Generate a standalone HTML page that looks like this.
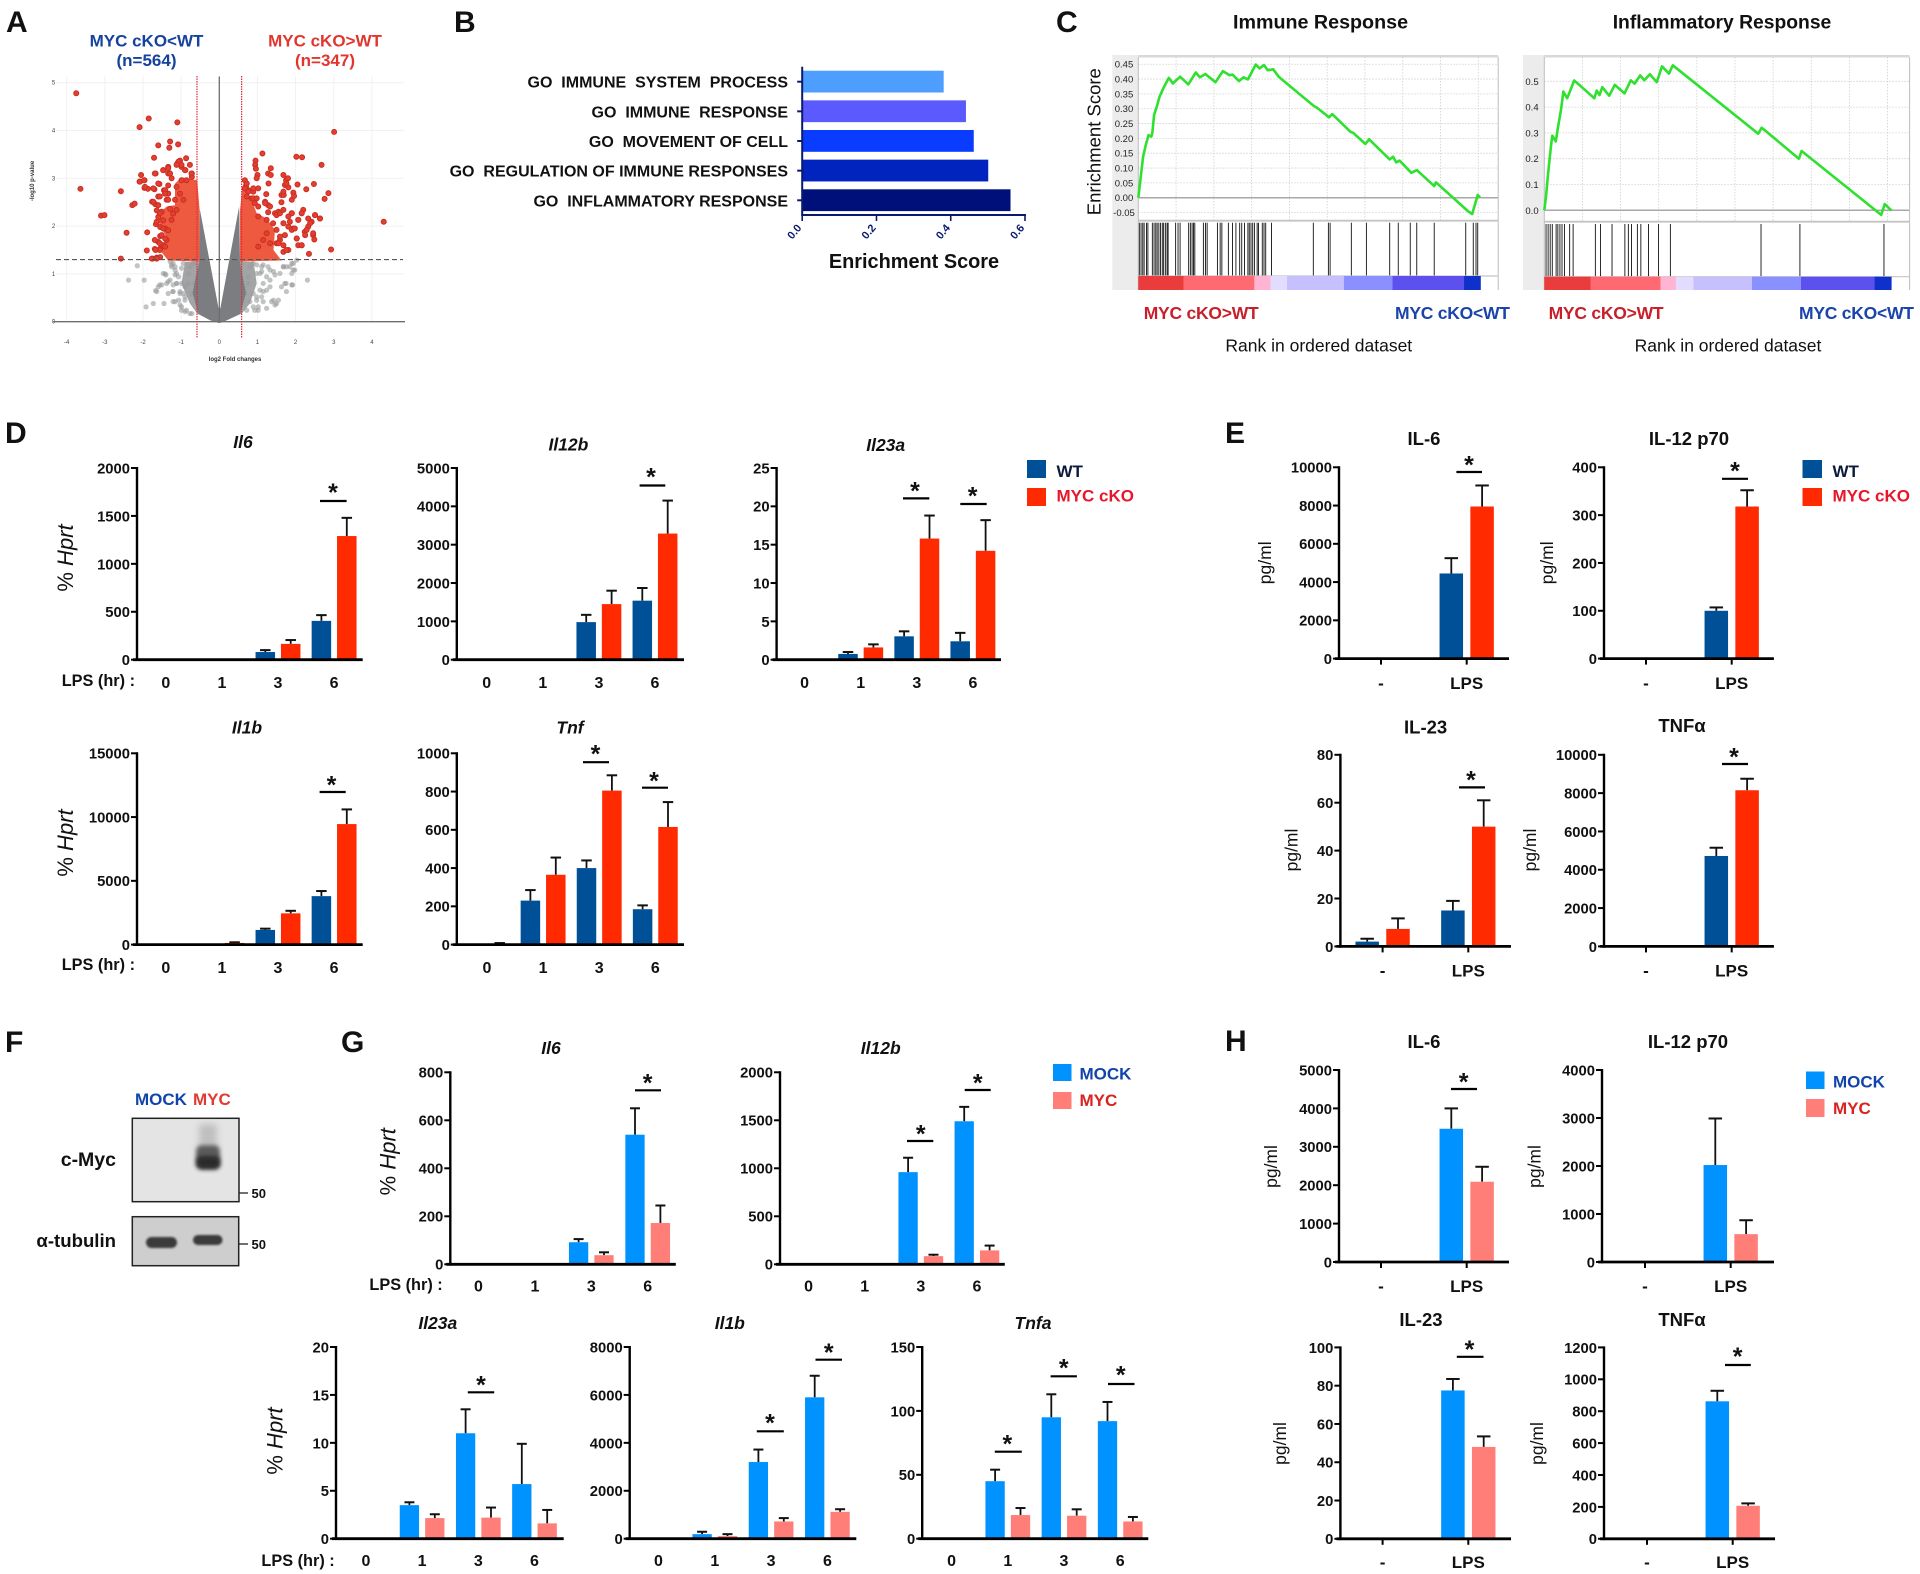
<!DOCTYPE html>
<html lang="en">
<head>
<meta charset="utf-8">
<title>MYC cKO figure panels</title>
<style>
html,body{margin:0;padding:0;background:#fff;}
#figure{display:block;width:1920px;height:1574px;background:#fff;}
#figure text{font-family:"Liberation Sans","DejaVu Sans",sans-serif;fill:#111;white-space:pre;}
.letter{font-size:30px;font-weight:700;fill:#000;}
.lg{font-size:17px;font-weight:700;}
</style>
</head>
<body>
<svg id="figure" xmlns="http://www.w3.org/2000/svg" width="1920" height="1574" viewBox="0 0 1920 1574">
  <defs>
    <filter id="blur-big" x="-50%" y="-50%" width="200%" height="200%"><feGaussianBlur stdDeviation="2"/></filter>
    <filter id="blur-smear" x="-50%" y="-50%" width="200%" height="200%"><feGaussianBlur stdDeviation="3.5"/></filter>
    <filter id="blur-small" x="-20%" y="-50%" width="140%" height="200%"><feGaussianBlur stdDeviation="1.1"/></filter>
  </defs>
  <text class="letter" x="6" y="32">A</text>
  <text class="letter" x="454" y="32">B</text>
  <text class="letter" x="1056" y="32">C</text>
  <text class="letter" x="5" y="443">D</text>
  <text class="letter" x="1225" y="443">E</text>
  <text class="letter" x="5" y="1052">F</text>
  <text class="letter" x="341" y="1052">G</text>
  <text class="letter" x="1225" y="1051">H</text>

  <text x="146.5" y="46.5" text-anchor="middle" font-size="17" font-weight="700" style="fill:#14429c">MYC cKO&lt;WT</text>
  <text x="146.5" y="66" text-anchor="middle" font-size="17" font-weight="700" style="fill:#14429c">(n=564)</text>
  <text x="325" y="46.5" text-anchor="middle" font-size="17" font-weight="700" style="fill:#e2352d">MYC cKO&gt;WT</text>
  <text x="325" y="66" text-anchor="middle" font-size="17" font-weight="700" style="fill:#e2352d">(n=347)</text>

  <text x="1320.5" y="28.5" text-anchor="middle" font-size="19.7" font-weight="700">Immune Response</text>
  <text x="1722" y="28.5" text-anchor="middle" font-size="19.3" font-weight="700">Inflammatory Response</text>
  <text transform="translate(1100.5,141.7) rotate(-90)" text-anchor="middle" font-size="18.5">Enrichment Score</text>
  <text x="1143.7" y="319" font-size="17.5" font-weight="700" textLength="115" style="fill:#c8202a">MYC cKO&gt;WT</text>
  <text x="1395" y="319" font-size="17.5" font-weight="700" textLength="115" style="fill:#1a44aa">MYC cKO&lt;WT</text>
  <text x="1548.6" y="319" font-size="17.5" font-weight="700" textLength="115" style="fill:#c8202a">MYC cKO&gt;WT</text>
  <text x="1799" y="319" font-size="17.5" font-weight="700" textLength="115" style="fill:#1a44aa">MYC cKO&lt;WT</text>
  <text x="1318.8" y="351.5" text-anchor="middle" font-size="17.5">Rank in ordered dataset</text>
  <text x="1728" y="351.5" text-anchor="middle" font-size="17.5">Rank in ordered dataset</text>

  <g>
    <rect x="1027" y="460" width="19" height="18" fill="#005098"/>
    <rect x="1027" y="488" width="19" height="18" fill="#ff2a00"/>
    <text class="lg" x="1056.5" y="477" style="fill:#0c1a3c">WT</text>
    <text class="lg" x="1056.5" y="501.5" style="fill:#e8162a">MYC cKO</text>
  </g>
  <g>
    <rect x="1802.5" y="460" width="19.5" height="18" fill="#005098"/>
    <rect x="1802.5" y="488" width="19.5" height="18" fill="#ff2a00"/>
    <text class="lg" x="1832.5" y="477" style="fill:#0c1a3c">WT</text>
    <text class="lg" x="1832.5" y="501.5" style="fill:#e8162a">MYC cKO</text>
  </g>
  <g>
    <rect x="1053" y="1064" width="18.5" height="17" fill="#0092ff"/>
    <rect x="1053" y="1092" width="18.5" height="17" fill="#ff7f78"/>
    <text class="lg" x="1079.5" y="1079.5" style="fill:#1144aa">MOCK</text>
    <text class="lg" x="1079.5" y="1106" style="fill:#d9231f">MYC</text>
  </g>
  <g>
    <rect x="1806" y="1071.5" width="18.5" height="17.5" fill="#0092ff"/>
    <rect x="1806" y="1099" width="18.5" height="18" fill="#ff7f78"/>
    <text class="lg" x="1833" y="1087.5" style="fill:#1144aa">MOCK</text>
    <text class="lg" x="1833" y="1114" style="fill:#d9231f">MYC</text>
  </g>

  <g>
    <text x="135" y="1105" font-size="17" font-weight="700" style="fill:#1144aa">MOCK</text>
    <text x="193" y="1105" font-size="17" font-weight="700" style="fill:#e03a32">MYC</text>
    <text x="116" y="1166" text-anchor="end" font-size="19.5" font-weight="700">c-Myc</text>
    <text x="116" y="1247" text-anchor="end" font-size="18.6" font-weight="700">α-tubulin</text>
    <rect x="132.3" y="1118.3" width="106.7" height="83.4" fill="#e4e4e4" stroke="#222" stroke-width="1.5"/>
    <rect x="199" y="1124" width="18" height="22" fill="#c0c0c0" filter="url(#blur-smear)"/>
    <rect x="196" y="1145" width="24" height="24" rx="6" fill="#5c5c5c" filter="url(#blur-big)"/>
    <rect x="196.5" y="1156" width="23.5" height="13" rx="5" fill="#2c2c2c" filter="url(#blur-big)"/>
    <rect x="132.3" y="1216.7" width="106.4" height="49" fill="#cecece" stroke="#222" stroke-width="1.5"/>
    <rect x="146" y="1237" width="31" height="11" rx="5.5" fill="#3a3a3a" filter="url(#blur-small)"/>
    <rect x="193" y="1235" width="29.5" height="10" rx="5" fill="#3a3a3a" filter="url(#blur-small)"/>
    <line x1="239" x2="248" y1="1193" y2="1193" stroke="#222" stroke-width="1.3"/>
    <line x1="239" x2="248" y1="1244" y2="1244" stroke="#222" stroke-width="1.3"/>
    <text x="251.5" y="1198" font-size="13" font-weight="700">50</text>
    <text x="251.5" y="1249" font-size="13" font-weight="700">50</text>
  </g>
</svg>

<script>
/* ---------- shared categories ---------- */
const lpsHours = ['0','1','3','6'];
const lpsTreatment = ['-','LPS'];

/* ---------- panel A: volcano (log2 fold change, -log10 p) ---------- */
const volcanoXTicks = [-4,-3,-2,-1,0,1,2,3,4];
const volcanoYTicks = [0,1,2,3,4,5];
const volcanoThresholdP = 1.3;
const volcanoThresholdFc = 0.585;
const volcanoGreyHalo = [[-0.51,2.35],[-0.02,0.28],[0.03,0.28],[0.52,2.4],[0.54,1.26],[0.9,1.25],[0.98,0.8],[0.8,0.38],[0.59,0.17],[0.2,0.03],[0,-0.03],[-0.24,0.03],[-0.58,0.17],[-0.77,0.38],[-0.99,0.8],[-0.9,1.25],[-0.52,1.26]];
const volcanoGreyCore = [[-0.51,2.35],[-0.02,0.28],[0.03,0.28],[0.52,2.4],[0.54,1.26],[0.6,1.0],[0.7,0.6],[0.55,0.17],[0.2,0.03],[0,-0.03],[-0.24,0.03],[-0.55,0.17],[-0.7,0.6],[-0.6,1.0],[-0.52,1.26]];
const volcanoRedBodyDown = [[-0.52,1.26],[-1.34,1.28],[-1.57,1.51],[-1.38,1.76],[-1.56,2.02],[-1.63,2.23],[-1.38,2.41],[-1.16,2.44],[-1.16,2.89],[-0.99,3.02],[-0.58,2.96],[-0.52,2.37]];
const volcanoRedBodyUp = [[0.54,1.26],[1.63,1.28],[1.42,1.5],[1.46,1.92],[1.24,2.16],[0.98,2.27],[0.85,2.55],[0.72,2.75],[0.67,3.0],[0.6,2.8],[0.54,2.3]];
const volcanoGreyPoints = [[-2.15,1.17],[-2.38,.87],[-1.97,.87],[-1.92,.31],[-1.73,.38],[-1.45,.38],[-1.67,.65],[-1.51,.77],[-1.6,.73],[-1.47,1.01],[-1.4,.98],[-1.29,1.26],[-1.21,1.22],[-1.25,1.15],[-1.16,1.08],[-1.21,.77],[-1.34,.59],[-1.22,.63],[-1.12,.8],[-1.07,.94],[-.99,1.12],[-.94,1.22],[-1.03,.63],[-.94,.59],[-1.16,.42],[-1.03,.35],[-.99,.24],[-.86,.24],[-.72,.17],[-.9,.73],[-.81,1.01],[-.77,1.15],[-.68,1.22],[-.81,.8],[-.72,.59],[-.99,.8],[-.9,.45],[-.64,.8],[-1.12,1.01],[-1.38,.8],[-1.25,1.19],[-1.16,1.15],[-1.29,.87],[-1.12,.8],[-1.21,.63],[-1.07,.45],[-1.21,.42],[-.99,.31],[-.9,.21],[-.77,.17],[-1.03,.59],[-.9,.52],[-1.16,.98],[-1.56,.77],[-1.64,.63],[-1.42,1.0],[-1.34,.84],[2.03,1.29],[1.94,1.22],[1.85,1.15],[1.98,1.08],[1.9,1.01],[1.76,1.15],[1.68,1.15],[2.31,.87],[1.92,.77],[1.75,.8],[1.63,.73],[1.76,.63],[1.55,.45],[1.46,.35],[1.37,.42],[1.24,.94],[1.33,.87],[1.15,.8],[1.24,.66],[1.07,.66],[.93,.24],[.98,.45],[.89,.59],[.8,.42],[.76,.8],[.98,1.01],[1.11,1.15],[.89,1.22],[.8,1.15],[.76,.94],[1.33,1.08],[1.46,.98],[1.07,1.01],[1.15,.42],[1.24,.28],[1.02,.24],[.72,.24],[.67,.59],[.98,1.19],[1.15,1.19],[1.11,1.05],[1.28,1.15],[1.42,1.05],[1.59,1.01],[1.68,1.15],[1.9,1.22],[1.94,1.08],[1.72,.8],[1.9,.77],[1.33,.73],[1.15,.63],[1.42,.45],[1.5,.38],[1.02,.31],[.89,.31],[.98,.52],[1.11,.52]];
const volcanoRedPoints = [[-3.75,4.78],[-3.64,2.78],[-1.85,4.25],[-2.09,4.07],[-1.1,4.17],[-1.6,3.69],[-1.29,3.77],[-1.31,3.64],[-1.08,3.71],[-1.71,3.43],[-.87,3.42],[-1.03,3.37],[-1.1,3.31],[-.77,3.28],[-.99,3.24],[-1.34,3.24],[-1.47,3.17],[-.89,3.17],[-1.67,3.1],[-2.05,3.07],[-1.34,3.1],[-.72,3.1],[-2.09,2.93],[-1.96,2.96],[-1.57,2.88],[-1.25,3.0],[-2.58,2.73],[-1.96,2.8],[-1.87,2.78],[-1.7,2.77],[-1.45,2.75],[-1.42,2.68],[-1.34,2.68],[-1.6,2.62],[-1.38,2.55],[-1.76,2.51],[-1.68,2.46],[-2.28,2.44],[-2.22,2.47],[-3.1,2.22],[-3.01,2.23],[-2.43,1.86],[-1.89,1.87],[-1.9,1.49],[-1.69,1.52],[-2.58,1.32],[-1.75,1.32],[-1.64,1.34],[-1.55,1.35],[-1.66,2.04],[-1.55,1.79],[-1.64,2.33],[-1.51,2.3],[-1.6,2.19],[-1.47,2.12],[-1.55,1.98],[-1.29,2.36],[-1.21,2.26],[-1.42,1.95],[-1.34,1.91],[-1.47,1.6],[-1.55,1.53],[-1.38,1.71],[-1.6,1.67],[-1.25,2.13],[-1.12,2.34],[-1.16,2.55],[-.99,2.96],[-.86,2.96],[-.72,3.03],[-1.12,2.82],[-1.03,2.68],[-.94,2.55],[-1.34,2.85],[-1.07,3.35],[-.99,3.28],[-1.12,3.28],[-.9,3.17],[-.73,3.1],[-1.73,2.51],[-1.6,2.44],[-1.42,2.75],[-1.34,2.68],[-1.56,2.27],[-1.64,2.09],[-1.47,1.95],[-1.42,1.74],[-1.56,1.64],[-1.51,1.81],[-1.69,1.71],[-1.56,1.5],[-1.42,1.57],[-1.77,1.32],[-1.64,1.32],[-1.67,1.5],[-1.34,3.21],[-1.29,3.1],[-1.47,3.17],[-1.69,3.1],[-1.6,2.89],[-1.95,2.82],[-2.08,2.93],[-1.97,2.96],[-1.73,2.79],[-1.56,2.62],[-1.42,2.68],[-1.34,2.55],
[3.01,3.97],[4.31,2.09],[1.13,3.52],[2.02,3.45],[2.17,3.44],[2.68,3.28],[.95,3.37],[.94,3.28],[.96,3.2],[1.35,3.21],[1.28,3.1],[1.35,3.07],[1.0,3.07],[.98,3.0],[1.29,2.89],[1.68,3.07],[1.75,2.96],[1.72,2.86],[1.81,2.81],[2.05,2.87],[2.48,2.88],[2.28,2.77],[2.86,2.69],[2.76,2.57],[1.94,2.7],[1.9,2.55],[1.96,2.63],[1.63,2.65],[1.69,2.65],[1.63,2.5],[1.23,2.67],[1.2,2.51],[1.28,2.44],[1.28,2.29],[.67,2.96],[.7,2.82],[.76,2.75],[.89,2.72],[1.02,2.79],[1.9,2.27],[1.81,2.2],[1.68,2.06],[1.81,1.99],[1.94,1.95],[2.07,2.13],[2.16,2.27],[2.2,2.34],[2.33,2.16],[2.51,2.23],[2.64,2.16],[2.42,2.09],[2.33,1.99],[2.24,1.88],[2.03,1.74],[2.07,1.6],[2.16,1.6],[2.46,1.81],[2.49,1.72],[2.35,1.42],[2.93,1.51],[1.81,1.5],[1.68,1.46],[1.59,1.71],[1.72,1.81],[1.9,1.92],[.72,2.62],[.85,2.58],[.93,2.48],[1.02,2.41],[1.02,2.2],[1.24,2.13],[1.41,2.06],[1.5,1.92],[1.46,2.27],[1.55,2.3],[1.15,1.71],[1.02,1.57],[1.33,1.64],[1.5,1.64],[1.24,1.85],[.89,2.79],[.89,2.58],[.72,2.89],[.67,2.79],[.76,2.72],[.98,2.58],[1.2,2.48],[1.33,2.41],[1.5,2.23],[1.59,2.27],[1.68,2.34],[1.9,2.27],[1.85,2.09],[1.98,1.95],[2.16,2.27],[2.07,2.13],[2.38,2.06],[2.29,1.92],[2.25,1.81],[2.46,1.85],[2.64,2.16],[2.51,2.23],[1.59,1.78],[1.68,1.6],[1.76,1.5],[1.55,1.64],[2.03,1.74],[2.16,1.6],[1.68,2.72],[1.76,2.89],[1.8,3.0]];

/* ---------- panel B ---------- */
const goTerms = ['GO  IMMUNE  SYSTEM  PROCESS','GO  IMMUNE  RESPONSE','GO  MOVEMENT OF CELL','GO  REGULATION OF IMMUNE RESPONSES','GO  INFLAMMATORY RESPONSE'];
const goScores = [0.381,0.441,0.462,0.501,0.561];
const goTicks = [0,0.2,0.4,0.6];
const goColors = ['#4d9eff','#5a5aff','#0a3cff','#0024bd','#00107a'];

/* ---------- panel C ---------- */
const immuneTicks = [-0.05,0,0.05,0.10,0.15,0.20,0.25,0.30,0.35,0.40,0.45];
const immuneRank = [0,.6,1.4,2.2,3,3.8,4.1,4.6,5.4,6.2,7.3,8.9,10.1,12.2,14.6,16.8,18,19.6,22.5,24.7,26.7,27.5,29.4,30.7,32,34.3,35.4,36.7,37.8,39.4,41,51.3,52.1,55.7,56.6,62,62.7,66.3,67.4,73.4,74.4,75.3,76.3,79.7,81.3,86.4,86.9,96.4,97.5,99.1,99.8];
const immuneEs = [0,.06,.138,.178,.211,.206,.217,.279,.307,.34,.369,.404,.385,.408,.382,.422,.406,.417,.389,.427,.413,.415,.393,.406,.399,.449,.436,.447,.43,.433,.408,.309,.304,.271,.282,.222,.219,.181,.197,.129,.138,.119,.125,.084,.093,.039,.052,-.047,-.055,.009,.001];
const immuneHits = [.3,.8,1.3,1.7,2.4,2.8,4.1,4.6,5.1,5.5,6,6.5,7,7.4,7.9,8.4,8.7,10.9,11.6,12.2,14.7,15.2,15.7,16.1,16.5,19,19.6,20.1,23.1,23.9,24.4,26.3,27.5,28.5,29.6,30.2,31,32,32.4,32.9,33.4,33.9,34.7,35.1,36.2,36.7,37.2,38.9,51.1,55.5,56,62.2,66.6,73.4,75.9,79.4,81.3,86.4,95.6,97.8,98.6,99.1];
const immuneHeatEnds = [13.3,33.9,38.6,43.4,60,74.2,95.1,100];
const inflamTicks = [0,0.1,0.2,0.3,0.4,0.5];
const inflamRank = [0,.5,1.1,1.9,2.3,3.3,3.9,4.8,5.5,6.6,8.6,11.7,14.4,15.1,15.9,16.7,18.7,20.3,23.1,24.9,26,27.6,28.8,30.4,32.4,33.9,35.9,37,61.6,62.6,73.3,74.1,97,98,100];
const inflamEs = [0,.053,.143,.247,.289,.267,.318,.389,.46,.434,.503,.467,.434,.464,.447,.477,.444,.486,.453,.504,.491,.523,.504,.527,.497,.558,.53,.562,.297,.32,.2,.23,-.018,.024,-.001];
const inflamHits = [.5,1.1,1.7,2.3,3.4,3.9,4.5,5.1,5.8,7.3,8.3,14.7,16.2,19.5,23.2,24.2,25.1,26.8,27.8,30,32.9,36.3,62.4,73.6,97.8];
const inflamHeatEnds = [13.3,33.5,37.9,42.9,59.8,73.9,95,100];
const heatColors = ['#ea3c3c','#ff6a72','#ffb4d4','#e2dcff','#c6c0ff','#8a90ff','#5c50ee','#1030cc'];

/* ---------- panel D: qPCR, WT vs MYC cKO ---------- */
const dIl6Ticks = [0,500,1000,1500,2000];
const dIl6Wt = [0,0,80,405];
const dIl6Ko = [0,0,165,1290];
const dIl6WtErr = [0,0,20,60];
const dIl6KoErr = [0,0,40,190];
const dIl12bTicks = [0,1000,2000,3000,4000,5000];
const dIl12bWt = [0,0,980,1540];
const dIl12bKo = [0,0,1450,3290];
const dIl12bWtErr = [0,0,190,330];
const dIl12bKoErr = [0,0,350,860];
const dIl23aTicks = [0,5,10,15,20,25];
const dIl23aWt = [0.05,0.75,3.05,2.4];
const dIl23aKo = [0,1.6,15.8,14.2];
const dIl23aWtErr = [0,0.25,0.65,1.1];
const dIl23aKoErr = [0,0.4,3,4];
const dIl1bTicks = [0,5000,10000,15000];
const dIl1bWt = [0,30,1150,3800];
const dIl1bKo = [0,130,2450,9450];
const dIl1bWtErr = [0,0,100,400];
const dIl1bKoErr = [0,50,200,1150];
const dTnfTicks = [0,200,400,600,800,1000];
const dTnfWt = [2,230,400,185];
const dTnfKo = [5,365,805,615];
const dTnfWtErr = [0,55,40,20];
const dTnfKoErr = [3,90,80,130];

/* ---------- panel E: ELISA, WT vs MYC cKO ---------- */
const eIl6Ticks = [0,2000,4000,6000,8000,10000];
const eIl6Wt = [0,4450];
const eIl6Ko = [0,7950];
const eIl6WtErr = [0,800];
const eIl6KoErr = [0,1100];
const eIl12Ticks = [0,100,200,300,400];
const eIl12Wt = [0,100];
const eIl12Ko = [0,318];
const eIl12WtErr = [0,7];
const eIl12KoErr = [0,34];
const eIl23Ticks = [0,20,40,60,80];
const eIl23Wt = [2,15];
const eIl23Ko = [7.3,50];
const eIl23WtErr = [1.2,4];
const eIl23KoErr = [4.4,11];
const eTnfTicks = [0,2000,4000,6000,8000,10000];
const eTnfWt = [0,4720];
const eTnfKo = [0,8150];
const eTnfWtErr = [0,430];
const eTnfKoErr = [0,600];

/* ---------- panel G: qPCR, MOCK vs MYC ---------- */
const gIl6Ticks = [0,200,400,600,800];
const gIl6Mock = [0,0,92,540];
const gIl6Myc = [0,0,38,172];
const gIl6MockErr = [0,0,13,110];
const gIl6MycErr = [0,0,12,73];
const gIl12bTicks = [0,500,1000,1500,2000];
const gIl12bMock = [0,0,960,1490];
const gIl12bMyc = [0,0,85,145];
const gIl12bMockErr = [0,0,150,150];
const gIl12bMycErr = [0,0,15,50];
const gIl23aTicks = [0,5,10,15,20];
const gIl23aMock = [0,3.5,11,5.7];
const gIl23aMyc = [0,2.15,2.2,1.6];
const gIl23aMockErr = [0,0.3,2.5,4.2];
const gIl23aMycErr = [0,0.4,1.05,1.4];
const gIl1bTicks = [0,2000,4000,6000,8000];
const gIl1bMock = [0,190,3200,5900];
const gIl1bMyc = [0,110,720,1120];
const gIl1bMockErr = [0,100,520,900];
const gIl1bMycErr = [0,80,140,110];
const gTnfaTicks = [0,50,100,150];
const gTnfaMock = [0,45,95,92];
const gTnfaMyc = [0,18.5,18,13.5];
const gTnfaMockErr = [0,9,18,15];
const gTnfaMycErr = [0,5.5,5,3.5];

/* ---------- panel H: ELISA, MOCK vs MYC ---------- */
const hIl6Ticks = [0,1000,2000,3000,4000,5000];
const hIl6Mock = [0,3470];
const hIl6Myc = [0,2090];
const hIl6MockErr = [0,530];
const hIl6MycErr = [0,390];
const hIl12Ticks = [0,1000,2000,3000,4000];
const hIl12Mock = [0,2020];
const hIl12Myc = [0,580];
const hIl12MockErr = [0,970];
const hIl12MycErr = [0,290];
const hIl23Ticks = [0,20,40,60,80,100];
const hIl23Mock = [0,77.5];
const hIl23Myc = [0,48];
const hIl23MockErr = [0,6];
const hIl23MycErr = [0,5.5];
const hTnfTicks = [0,200,400,600,800,1000,1200];
const hTnfMock = [0,862];
const hTnfMyc = [0,207];
const hTnfMockErr = [0,66];
const hTnfMycErr = [0,15];

/* ---------- helpers ---------- */
const NS = 'http://www.w3.org/2000/svg';
const svg = document.getElementById('figure');
function add(tag, attrs, parent){
  const el = document.createElementNS(NS, tag);
  for (const k in attrs) el.setAttribute(k, attrs[k]);
  (parent || svg).appendChild(el);
  return el;
}
function addText(str, x, y, size, attrs, parent){
  const el = add('text', Object.assign({x:x, y:y, 'font-size':size}, attrs || {}), parent);
  el.textContent = str;
  return el;
}

/* ---------- volcano ---------- */
function drawVolcano(){
  const xS = v => 219.3 + v*38.15;
  const yS = v => 321.7 - v*47.8;
  const g = add('g', {});
  
  
  volcanoXTicks.forEach(t => {
    const grid = add('line', {x1:xS(t), x2:xS(t), y1:76, y2:322, stroke:'#f1f1f1', 'stroke-width':1}, g);
    
    
    const lab = addText(String(t), xS(t), 344, 6, {'text-anchor':'middle', style:'fill:#444'}, g);
    
    
  });
  volcanoYTicks.forEach(t => {
    const grid = add('line', {x1:56, x2:404, y1:yS(t), y2:yS(t), stroke:'#f1f1f1', 'stroke-width':1}, g);
    
    
    const lab = addText(String(t), 53.5, yS(t)+2, 6, {'text-anchor':'middle', style:'fill:#444'}, g);
    
    
  });
  const pts = a => a.map(p => xS(p[0]).toFixed(1)+','+yS(p[1]).toFixed(1)).join(' ');
  const halo = add('polygon', {points:pts(volcanoGreyHalo), fill:'#a2a4a5'}, g);
  
  
  volcanoGreyPoints.forEach(p => {
    const c = add('circle', {cx:xS(p[0]), cy:yS(p[1]), r:2.6, fill:'#999b9c', 'fill-opacity':0.6}, g);
    
    
  });
  const body = add('polygon', {points:pts(volcanoGreyCore), fill:'#7b7d80'}, g);
  
  
  const rd = add('polygon', {points:pts(volcanoRedBodyDown), fill:'#ee5a40'}, g);
  
  
  const ru = add('polygon', {points:pts(volcanoRedBodyUp), fill:'#ee5a40'}, g);
  
  
  volcanoRedPoints.forEach(p => {
    const c = add('circle', {cx:xS(p[0]), cy:yS(p[1]), r:2.5, fill:'#e2402e', stroke:'#cb2c24', 'stroke-width':1}, g);
    
    
  });
  const xa = add('line', {x1:53, x2:405, y1:yS(0), y2:yS(0), stroke:'#6e6e6e', 'stroke-width':1.3}, g);
  
  
  const ya = add('line', {x1:xS(0), x2:xS(0), y1:76.5, y2:yS(0), stroke:'#6e6e6e', 'stroke-width':1.3}, g);
  
  
  const th = add('line', {x1:56, x2:403, y1:yS(volcanoThresholdP), y2:yS(volcanoThresholdP), stroke:'#555', 'stroke-width':1.1, 'stroke-dasharray':'5 3'}, g);
  
  
  [-volcanoThresholdFc, volcanoThresholdFc].forEach(v => {
    const l = add('line', {x1:xS(v), x2:xS(v), y1:76, y2:338, stroke:'#e02a3a', 'stroke-width':1.2, 'stroke-dasharray':'1.5 1'}, g);
    
    
  });
  const xt = addText('log2 Fold changes', 235, 361, 6, {'text-anchor':'middle', 'font-weight':700, style:'fill:#333'}, g);
  
  
  const yt = addText('-log10 p-value', 0, 0, 6, {'text-anchor':'middle', 'font-weight':700, transform:'translate(34,181) rotate(-90)', style:'fill:#333'}, g);
  
  
}

/* ---------- GO enrichment bars ---------- */
function drawGoBars(){
  const x0 = 802.2, x1 = 1025, axisY = 215;
  const xS = v => x0 + v/goTicks[goTicks.length-1]*(x1-x0);
  const bandY = i => 70.7 + i*29.65;
  const g = add('g', {});
  
  
  goTerms.forEach((term, i) => {
    const r = add('rect', {x:x0, y:bandY(i), width:xS(goScores[i])-x0, height:21.8, fill:goColors[i]}, g);
    
    
    const tk = add('line', {x1:x0-5, x2:x0, y1:bandY(i)+11, y2:bandY(i)+11, stroke:'#0a1a70', 'stroke-width':2}, g);
    
    
    const lab = addText(term, 788, bandY(i)+17, 16, {'text-anchor':'end', 'font-weight':700}, g);
    
    
  });
  const ya = add('line', {x1:x0, x2:x0, y1:66.7, y2:axisY, stroke:'#0a1a70', 'stroke-width':2}, g);
  
  
  const xa = add('line', {x1:x0-1, x2:x1+1, y1:axisY, y2:axisY, stroke:'#0a1a70', 'stroke-width':2}, g);
  
  
  goTicks.forEach(t => {
    const tk = add('line', {x1:xS(t), x2:xS(t), y1:axisY, y2:axisY+6, stroke:'#0a1a70', 'stroke-width':1.6}, g);
    
    
    const lab = addText(t.toFixed(1), 0, 0, 11, {'text-anchor':'middle', 'font-weight':700, transform:'translate('+(xS(t)-5)+','+(axisY+19)+') rotate(-50)', style:'fill:#0a1a70'}, g);
    
    
  });
  const title = addText('Enrichment Score', 914, 268, 19.9, {'text-anchor':'middle', 'font-weight':700}, g);
  
  
}

/* ---------- GSEA plots ---------- */
function drawGsea(c){
  const xS = r => c.rankX0 + r/100*(c.rankX1-c.rankX0);
  const yS = v => c.zeroY - v*c.pxPerEs;
  const g = add('g', {});
  
  
  const strip = add('rect', {x:c.stripX, y:55, width:c.rankX0-c.stripX, height:235, fill:'#ececec'}, g);
  
  
  const top = add('rect', {x:c.rankX0, y:55, width:c.plotX1-c.rankX0, height:2.5, fill:'#d8d8d8'}, g);
  
  
  for (let i=1;i<=9;i++){
    const gl = add('line', {x1:xS(c.gridStep*i), x2:xS(c.gridStep*i), y1:57, y2:c.sepY, stroke:'#cfcfcf', 'stroke-width':0.8, 'stroke-dasharray':'1.5 1.5'}, g);
    
    
  }
  c.ticks.forEach(t => {
    const gl = add('line', {x1:c.rankX0, x2:c.plotX1, y1:yS(t), y2:yS(t), stroke:'#cfcfcf', 'stroke-width':0.8, 'stroke-dasharray':'1.5 1.5'}, g);
    
    
    const lab = addText(t.toFixed(c.decimals), c.labelX, yS(t)+3.5, 9.5, {'text-anchor':'middle', style:'fill:#222'}, g);
    
    
  });
  const zero = add('line', {x1:c.rankX0, x2:c.plotX1, y1:yS(0), y2:yS(0), stroke:'#a8a8a8', 'stroke-width':1.5}, g);
  
  
  const frame = add('path', {d:'M'+c.rankX0+' 57V290M'+c.plotX1+' 57V290', stroke:'#bdbdbd', 'stroke-width':1, fill:'none'}, g);
  
  
  const sep = add('line', {x1:c.rankX0, x2:c.plotX1, y1:c.sepY, y2:c.sepY, stroke:'#c4c4c4', 'stroke-width':1.8}, g);
  
  
  const es = add('polyline', {points:c.rank.map((r,i)=>xS(r).toFixed(1)+','+yS(c.es[i]).toFixed(1)).join(' '), fill:'none', stroke:'#2fe02f', 'stroke-width':2.6, 'stroke-linejoin':'round'}, g);
  
  
  c.hits.forEach(r => {
    const h = add('line', {x1:xS(r), x2:xS(r), y1:c.hitY0, y2:c.heatY, stroke:'#111', 'stroke-width':0.9}, g);
    
    
  });
  const heatTop = add('line', {x1:c.rankX0, x2:c.plotX1, y1:c.heatY, y2:c.heatY, stroke:'#c4c4c4', 'stroke-width':1.2}, g);
  
  
  let prev = 0;
  c.heatEnds.forEach((e,i) => {
    const s = add('rect', {x:xS(prev), y:c.heatY, width:xS(e)-xS(prev), height:290-c.heatY, fill:heatColors[i]}, g);
    
    
    prev = e;
  });
}

/* ---------- grouped bar chart ---------- */
function barChart(c){
  const g = add('g', {});
  
  
  const yMax = c.ticks[c.ticks.length-1];
  const yS = v => c.y0 - v/yMax*(c.y0-c.yTop);
  const xS = i => c.cx0 + i*c.step;
  const series = [[c.a,c.aErr,c.aColor],[c.b,c.bErr,c.bColor]];
  series.forEach((s,si) => {
    s[0].forEach((v,i) => {
      const cx = xS(i) + (si===0?-1:1)*c.off;
      if (s[1][i] > 0){
        const stem = add('line', {x1:cx, x2:cx, y1:yS(v), y2:yS(v+s[1][i]), stroke:'#111', 'stroke-width':1.8}, g);
        
        
        const cap = add('line', {x1:cx-c.cap/2, x2:cx+c.cap/2, y1:yS(v+s[1][i]), y2:yS(v+s[1][i]), stroke:'#111', 'stroke-width':2}, g);
        
        
      }
      const r = add('rect', {x:cx-c.barW/2, y:yS(v), width:c.barW, height:c.y0-yS(v), fill:s[2]}, g);
      
      
    });
  });
  const ya = add('line', {x1:c.ax, x2:c.ax, y1:c.yTop-1, y2:c.y0+1.3, stroke:'#000', 'stroke-width':2.4}, g);
  
  
  const xa = add('line', {x1:c.ax-4, x2:c.xEnd, y1:c.y0, y2:c.y0, stroke:'#000', 'stroke-width':2.8}, g);
  
  
  c.ticks.forEach(t => {
    const tk = add('line', {x1:c.ax-6, x2:c.ax, y1:yS(t), y2:yS(t), stroke:'#000', 'stroke-width':2}, g);
    
    
    const lab = addText(String(t), c.ax-7, yS(t)+5.4, 14.8, {'text-anchor':'end', 'font-weight':700}, g);
    
    
  });
  c.cats.forEach((cat,i) => {
    if (c.xTicks){
      const tk = add('line', {x1:xS(i), x2:xS(i), y1:c.y0, y2:c.y0+6, stroke:'#000', 'stroke-width':2}, g);
      
      
    }
    const lab = addText(cat, xS(i), c.catY+6, c.xTicks?17:16, {'text-anchor':'middle', 'font-weight':700}, g);
    
    
  });
  const title = addText(c.title, c.titleX, c.titleY+6, c.titleItalic?17.5:18.5, {'text-anchor':'middle', 'font-weight':700, 'font-style':c.titleItalic?'italic':'normal'}, g);
  
  
  if (c.sig) c.sig.forEach(s => {
    const l = add('line', {x1:s[0], x2:s[1], y1:s[2], y2:s[2], stroke:'#000', 'stroke-width':2.2}, g);
    
    
    const st = addText('*', s[3], s[4]+13.5, 25, {'text-anchor':'middle', 'font-weight':700}, g);
    
    
  });
  if (c.lps){
    const l = addText('LPS (hr) :', c.lps[0], c.lps[1]+6, 16.3, {'text-anchor':'end', 'font-weight':700}, g);
    
    
  }
  if (c.hprt){
    const t = add('text', {transform:'translate('+(c.hprt[0]+7.5)+','+c.hprt[1]+') rotate(-90)', 'text-anchor':'middle', 'font-size':22}, g);
    
    
    const pct = add('tspan', {}, t);
    pct.textContent = '% ';
    const gene = add('tspan', {'font-style':'italic'}, t);
    gene.textContent = 'Hprt';
  }
  if (c.pg){
    const t = addText('pg/ml', 0, 0, 17.5, {'text-anchor':'middle', transform:'translate('+(c.pg[0]+6)+','+c.pg[1]+') rotate(-90)'}, g);
    
    
  }
}

drawVolcano();
drawGoBars();
drawGsea({name:'immune', stripX:1112.3, rankX0:1138.3, rankX1:1480.8, plotX1:1498.2, zeroY:197.7, pxPerEs:296.6, sepY:220.7, hitY0:222.7, heatY:276, labelX:1124, decimals:2, gridStep:11.03, ticks:immuneTicks, rank:immuneRank, es:immuneEs, hits:immuneHits, heatEnds:immuneHeatEnds});
drawGsea({name:'inflammatory', stripX:1523, rankX0:1544.3, rankX1:1891.6, plotX1:1909.6, zeroY:210.3, pxPerEs:258, sepY:221.7, hitY0:224, heatY:276.7, labelX:1532, decimals:1, gridStep:10.98, ticks:inflamTicks, rank:inflamRank, es:inflamEs, hits:inflamHits, heatEnds:inflamHeatEnds});

const BLUE='#005098', RED='#ff2a00', SKY='#0092ff', PINK='#ff7f78';
const qpcrD = {cats:lpsHours, step:56.1, barW:19.5, off:12.7, cap:10.5, aColor:BLUE, bColor:RED, aName:'wt', bName:'myc-cko', titleItalic:true};
barChart(Object.assign({}, qpcrD, {name:'d-il6', title:'Il6', titleX:243, titleY:442, ax:137, xEnd:362.7, yTop:468, y0:659.7, catY:682, cx0:165.8, ticks:dIl6Ticks, a:dIl6Wt, b:dIl6Ko, aErr:dIl6WtErr, bErr:dIl6KoErr, sig:[[320,346.6,501,333,487.7]], lps:[135,680], hprt:[65.6,558]}));
barChart(Object.assign({}, qpcrD, {name:'d-il12b', title:'Il12b', titleX:568.4, titleY:444.4, ax:456.8, xEnd:684, yTop:468, y0:659.7, catY:682, cx0:486.7, ticks:dIl12bTicks, a:dIl12bWt, b:dIl12bKo, aErr:dIl12bWtErr, bErr:dIl12bKoErr, sig:[[639.6,665.3,485.5,651,472]]}));
barChart(Object.assign({}, qpcrD, {name:'d-il23a', title:'Il23a', titleX:885.7, titleY:444.8, ax:776.6, xEnd:1001, yTop:468, y0:659.7, catY:682, cx0:804.6, ticks:dIl23aTicks, a:dIl23aWt, b:dIl23aKo, aErr:dIl23aWtErr, bErr:dIl23aKoErr, sig:[[903,929.3,498.4,915,486],[960.3,986.7,504,972.6,491]]}));
barChart(Object.assign({}, qpcrD, {name:'d-il1b', title:'Il1b', titleX:247, titleY:727.4, ax:137, xEnd:362.7, yTop:753.3, y0:944.6, catY:966.8, cx0:165.8, ticks:dIl1bTicks, a:dIl1bWt, b:dIl1bKo, aErr:dIl1bWtErr, bErr:dIl1bKoErr, sig:[[319.6,345.7,792,331.5,780]], lps:[135,964], hprt:[65.6,843]}));
barChart(Object.assign({}, qpcrD, {name:'d-tnf', title:'Tnf', titleX:570, titleY:727.4, ax:456.8, xEnd:684, yTop:753.3, y0:944.6, catY:966.8, cx0:487, ticks:dTnfTicks, a:dTnfWt, b:dTnfKo, aErr:dTnfWtErr, bErr:dTnfKoErr, sig:[[583,609,762.2,595.5,749],[642,668,787.7,654,776]]}));

const elisaE = {cats:lpsTreatment, step:85.7, barW:23.5, off:15.4, cap:13.5, xTicks:true, aColor:BLUE, bColor:RED, aName:'wt', bName:'myc-cko', titleItalic:false};
barChart(Object.assign({}, elisaE, {name:'e-il6', title:'IL-6', titleX:1424, titleY:439, ax:1339, xEnd:1509, yTop:467.3, y0:658.6, catY:683, cx0:1381, ticks:eIl6Ticks, a:eIl6Wt, b:eIl6Ko, aErr:eIl6WtErr, bErr:eIl6KoErr, sig:[[1456.4,1482,472,1469,460]], pg:[1265,562.8]}));
barChart(Object.assign({}, elisaE, {name:'e-il12-p70', title:'IL-12 p70', titleX:1689, titleY:439, ax:1604, xEnd:1773.9, yTop:467.3, y0:658.6, catY:683, cx0:1646, ticks:eIl12Ticks, a:eIl12Wt, b:eIl12Ko, aErr:eIl12WtErr, bErr:eIl12KoErr, sig:[[1722,1748,478.8,1735,466]], pg:[1547,562.8]}));
barChart(Object.assign({}, elisaE, {name:'e-il23', title:'IL-23', titleX:1425.6, titleY:727.4, ax:1340.4, xEnd:1511, yTop:754.8, y0:946.4, catY:970.5, cx0:1382.6, ticks:eIl23Ticks, a:eIl23Wt, b:eIl23Ko, aErr:eIl23WtErr, bErr:eIl23KoErr, sig:[[1459,1485,787.4,1471,775]], pg:[1291.5,850]}));
barChart(Object.assign({}, elisaE, {name:'e-tnf-alpha', title:'TNFα', titleX:1682, titleY:726, ax:1604, xEnd:1773.9, yTop:754.8, y0:946.4, catY:970.5, cx0:1646, ticks:eTnfTicks, a:eTnfWt, b:eTnfKo, aErr:eTnfWtErr, bErr:eTnfKoErr, sig:[[1722,1748,764,1734,752]], pg:[1530,850]}));

const qpcrG = {cats:lpsHours, barW:19.3, off:12.7, cap:10, aColor:SKY, bColor:PINK, aName:'mock', bName:'myc', titleItalic:true};
barChart(Object.assign({}, qpcrG, {name:'g-il6', title:'Il6', titleX:551, titleY:1048, ax:450.3, xEnd:675.8, yTop:1072.3, y0:1264.3, catY:1285.7, cx0:478.5, step:56.4, ticks:gIl6Ticks, a:gIl6Mock, b:gIl6Myc, aErr:gIl6MockErr, bErr:gIl6MycErr, sig:[[635,661,1090.3,647.6,1078]], lps:[442.7,1284], hprt:[388,1161.7]}));
barChart(Object.assign({}, qpcrG, {name:'g-il12b', title:'Il12b', titleX:880.7, titleY:1048, ax:780, xEnd:1004.8, yTop:1072.3, y0:1264.3, catY:1285.7, cx0:808.6, step:56.1, ticks:gIl12bTicks, a:gIl12bMock, b:gIl12bMyc, aErr:gIl12bMockErr, bErr:gIl12bMycErr, sig:[[907,933.3,1141,920.8,1129],[964.7,990.7,1090,977.7,1078]]}));
barChart(Object.assign({}, qpcrG, {name:'g-il23a', title:'Il23a', titleX:437.8, titleY:1323, ax:336, xEnd:563.7, yTop:1347, y0:1538.7, catY:1560, cx0:365.9, step:56.2, ticks:gIl23aTicks, a:gIl23aMock, b:gIl23aMyc, aErr:gIl23aMockErr, bErr:gIl23aMycErr, sig:[[467.8,494.2,1392.3,481,1380]], lps:[334.7,1560], hprt:[274.8,1441]}));
barChart(Object.assign({}, qpcrG, {name:'g-il1b', title:'Il1b', titleX:729.8, titleY:1323, ax:629.7, xEnd:856.3, yTop:1347, y0:1538.7, catY:1560, cx0:658.5, step:56.3, ticks:gIl1bTicks, a:gIl1bMock, b:gIl1bMyc, aErr:gIl1bMockErr, bErr:gIl1bMycErr, sig:[[756.8,783.8,1431.3,770,1418],[815.5,842,1359.7,828.7,1347.7]]}));
barChart(Object.assign({}, qpcrG, {name:'g-tnfa', title:'Tnfa', titleX:1033, titleY:1323, ax:922.2, xEnd:1148.3, yTop:1347, y0:1538.7, catY:1560, cx0:951.6, step:56.2, ticks:gTnfaTicks, a:gTnfaMock, b:gTnfaMyc, aErr:gTnfaMockErr, bErr:gTnfaMycErr, sig:[[994.8,1021.8,1451.7,1007.4,1439],[1050.6,1076.9,1376.3,1063.7,1363],[1108,1134.5,1384,1120.7,1370]]}));

const elisaH = {cats:lpsTreatment, step:85.7, barW:23.5, off:15.4, cap:13.5, xTicks:true, aColor:SKY, bColor:PINK, aName:'mock', bName:'myc', titleItalic:false};
barChart(Object.assign({}, elisaH, {name:'h-il6', title:'IL-6', titleX:1424, titleY:1042, ax:1339, xEnd:1509, yTop:1070, y0:1262, catY:1286, cx0:1381, ticks:hIl6Ticks, a:hIl6Mock, b:hIl6Myc, aErr:hIl6MockErr, bErr:hIl6MycErr, sig:[[1451,1477,1089,1463.6,1077]], pg:[1271,1166.5]}));
barChart(Object.assign({}, elisaH, {name:'h-il12-p70', title:'IL-12 p70', titleX:1688, titleY:1042, ax:1602, xEnd:1774, yTop:1070, y0:1262, catY:1286, cx0:1645, ticks:hIl12Ticks, a:hIl12Mock, b:hIl12Myc, aErr:hIl12MockErr, bErr:hIl12MycErr, pg:[1534.7,1166.5]}));
barChart(Object.assign({}, elisaH, {name:'h-il23', title:'IL-23', titleX:1421, titleY:1320, ax:1340.4, xEnd:1511, yTop:1347.4, y0:1538.8, catY:1562, cx0:1382.6, ticks:hIl23Ticks, a:hIl23Mock, b:hIl23Myc, aErr:hIl23MockErr, bErr:hIl23MycErr, sig:[[1456.8,1483.5,1356.8,1469.5,1344.5]], pg:[1280,1443.5]}));
barChart(Object.assign({}, elisaH, {name:'h-tnf-alpha', title:'TNFα', titleX:1682, titleY:1320, ax:1604, xEnd:1775, yTop:1347.4, y0:1538.8, catY:1562, cx0:1647, ticks:hTnfTicks, a:hTnfMock, b:hTnfMyc, aErr:hTnfMockErr, bErr:hTnfMycErr, sig:[[1725,1750.8,1365,1737.6,1351.7]], pg:[1537,1443.5]}));
</script>
</body>
</html>
